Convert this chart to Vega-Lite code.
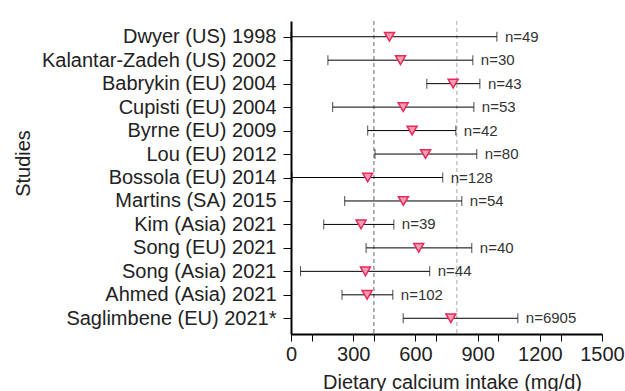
{
  "$schema": "https://vega.github.io/schema/vega-lite/v6.json",
  "autosize": {"type": "none"},
  "padding": {"left": 291, "top": 21, "right": 23, "bottom": 57},
  "width": 311,
  "height": 313,
  "background": "white",
  "config": {
    "view": {"stroke": null},
    "font": "Liberation Sans",
    "axis": {"grid": false}
  },
  "resolve": {"axis": {"x": "independent"}},
  "datasets": {
    "studies": [
      {"study": "Dwyer (US) 1998", "lo": 0, "hi": 993, "mean": 475, "n": "n=49"},
      {"study": "Kalantar-Zadeh (US) 2002", "lo": 178, "hi": 877, "mean": 528, "n": "n=30"},
      {"study": "Babrykin (EU) 2004", "lo": 655, "hi": 911, "mean": 782, "n": "n=43"},
      {"study": "Cupisti (EU) 2004", "lo": 201, "hi": 882, "mean": 541, "n": "n=53"},
      {"study": "Byrne (EU) 2009", "lo": 370, "hi": 795, "mean": 584, "n": "n=42"},
      {"study": "Lou (EU) 2012", "lo": 405, "hi": 896, "mean": 649, "n": "n=80"},
      {"study": "Bossola (EU) 2014", "lo": 5, "hi": 732, "mean": 370, "n": "n=128"},
      {"study": "Martins (SA) 2015", "lo": 259, "hi": 824, "mean": 542, "n": "n=54"},
      {"study": "Kim (Asia) 2021", "lo": 158, "hi": 496, "mean": 338, "n": "n=39"},
      {"study": "Song (EU) 2021", "lo": 362, "hi": 872, "mean": 616, "n": "n=40"},
      {"study": "Song (Asia) 2021", "lo": 46, "hi": 669, "mean": 359, "n": "n=44"},
      {"study": "Ahmed (Asia) 2021", "lo": 246, "hi": 491, "mean": 367, "n": "n=102"},
      {"study": "Saglimbene (EU) 2021*", "lo": 541, "hi": 1094, "mean": 771, "n": "n=6905"}
    ],
    "refs": [
      {"v": 400, "c": "a"},
      {"v": 800, "c": "b"}
    ]
  },
  "layer": [
    {
      "data": {"name": "refs"},
      "mark": {"type": "rule", "strokeDash": [4, 3], "strokeWidth": 1},
      "encoding": {
        "x": {
          "field": "v", "type": "quantitative",
          "scale": {"domain": [0, 1500], "nice": false},
          "axis": {
            "orient": "bottom",
            "title": "Dietary calcium intake (mg/d)",
            "values": [0, 300, 600, 900, 1200, 1500],
            "format": "d",
            "titleFontSize": 20, "titleFontWeight": "normal", "titleColor": "#222",
            "titleX": 161, "titleY": 54, "titleBaseline": "alphabetic",
            "labelFontSize": 20, "labelColor": "#222", "labelPadding": 3, "labelFlush": false, "labelOverlap": false,
            "tickSize": 7, "tickColor": "black", "tickWidth": 1,
            "domainColor": "black", "domainWidth": 2
          }
        },
        "color": {"field": "c", "type": "nominal", "scale": {"domain": ["a", "b"], "range": ["#666666", "#aaaaaa"]}, "legend": null},
        "strokeWidth": {"field": "c", "type": "nominal", "scale": {"domain": ["a", "b"], "range": [1, 1.6]}, "legend": null}
      }
    },
    {
      "data": {"name": "studies"},
      "layer": [
        {
          "mark": {"type": "rule", "color": "black", "strokeWidth": 1},
          "encoding": {
            "y": {
              "field": "study", "type": "nominal", "sort": null,
              "scale": {"type": "point", "padding": 0.67},
              "axis": {
                "title": "Studies",
                "titleFontSize": 20, "titleFontWeight": "normal", "titleColor": "#222",
                "titleX": -268, "titleY": 142, "titleAngle": -90, "titleBaseline": "middle", "titleAlign": "center",
                "labelFontSize": 20, "labelColor": "#222", "labelPadding": 7, "labelLimit": 400,
                "tickSize": 8, "tickColor": "black", "tickWidth": 1,
                "domainColor": "black", "domainWidth": 2
              }
            },
            "x": {
              "field": "lo", "type": "quantitative",
              "axis": {
                "orient": "bottom",
                "title": null,
                "values": [100, 200, 400, 500, 700, 800, 1000, 1100, 1300, 1400],
                "labels": false,
                "domain": false,
                "tickSize": 7, "tickColor": "black", "tickWidth": 1
              }
            },
            "x2": {"field": "hi"}
          }
        },
        {
          "mark": {"type": "tick", "orient": "vertical", "size": 10, "thickness": 1, "color": "black"},
          "encoding": {
            "y": {"field": "study", "type": "nominal", "sort": null},
            "x": {"field": "lo", "type": "quantitative"}
          }
        },
        {
          "mark": {"type": "tick", "orient": "vertical", "size": 10, "thickness": 1, "color": "black"},
          "encoding": {
            "y": {"field": "study", "type": "nominal", "sort": null},
            "x": {"field": "hi", "type": "quantitative"}
          }
        },
        {
          "mark": {"type": "point", "shape": "triangle-down", "size": 100, "filled": true, "fill": "#f2a0ae", "stroke": "#e8285c", "strokeWidth": 1.5, "opacity": 1},
          "encoding": {
            "y": {"field": "study", "type": "nominal", "sort": null},
            "x": {"field": "mean", "type": "quantitative"}
          }
        },
        {
          "mark": {"type": "text", "align": "left", "baseline": "middle", "dx": 8, "fontSize": 15, "color": "#333"},
          "encoding": {
            "y": {"field": "study", "type": "nominal", "sort": null},
            "x": {"field": "hi", "type": "quantitative"},
            "text": {"field": "n"}
          }
        }
      ]
    }
  ]
}
